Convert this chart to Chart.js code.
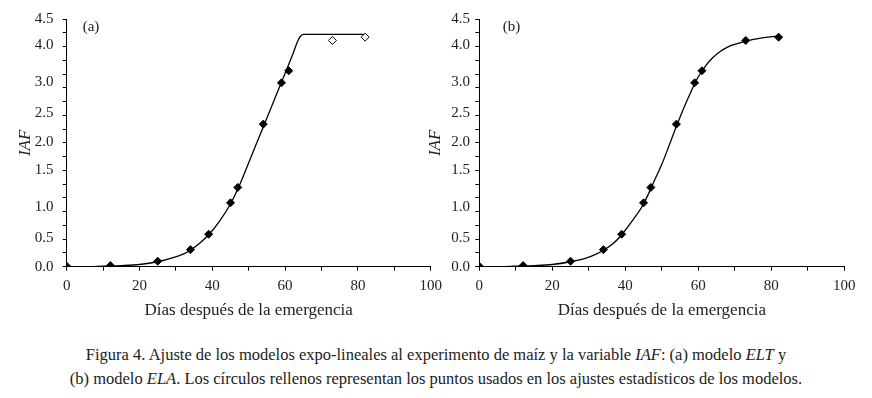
<!DOCTYPE html>
<html>
<head>
<meta charset="utf-8">
<script src="https://cdn.jsdelivr.net/npm/chart.js@4.4.0/dist/chart.umd.min.js"></script>
<style>
  body { margin: 0; background: #fff; }
  #wrap { position: relative; width: 872px; height: 398px; overflow: hidden; }
  canvas { position: absolute; top: 0; }
  #caption {
    position: absolute; left: 0; top: 343px; width: 872px;
    text-align: center; font-family: "Liberation Serif", serif;
    font-size: 16.5px; line-height: 24px; color: #222;
  }
</style>
</head>
<body>
<div id="wrap">
  <canvas id="chartA" width="455" height="330" style="left:0"></canvas>
  <canvas id="chartB" width="452" height="330" style="left:420px"></canvas>
  <div id="caption">
    Figura 4. Ajuste de los modelos expo-lineales al experimento de maíz y la variable <i>IAF</i>: (a) modelo <i>ELT</i> y<br>
    (b) modelo <i>ELA</i>. Los círculos rellenos representan los puntos usados en los ajustes estadísticos de los modelos.
  </div>
</div>
<script>
// Datos observados (días después de la emergencia, IAF)
const dias = [0, 12, 25, 34, 39, 45, 47, 54, 59, 61, 73, 82];
const iaf = [0.01, 0.02, 0.10, 0.31, 0.59, 1.16, 1.44, 2.59, 3.34, 3.56, 4.11, 4.17];
// 1 = usado en el ajuste (relleno), 0 = no usado (vacío)
const usadosA = [1, 1, 1, 1, 1, 1, 1, 1, 1, 1, 0, 0];
const usadosB = [1, 1, 1, 1, 1, 1, 1, 1, 1, 1, 1, 1];

// Curva ajustada, modelo ELT (a)
const curvaA_x = [0, 5, 10, 15, 20, 25, 29, 32, 34, 36.6, 39, 42, 45, 47, 50, 54, 59, 62, 63.6, 64.3, 65, 82];
const curvaA_y = [0, 0, 0.01, 0.02, 0.04, 0.09, 0.16, 0.23, 0.30, 0.43, 0.58, 0.83, 1.14, 1.41, 1.89, 2.54, 3.35, 3.84, 4.12, 4.19, 4.22, 4.22];

// Curva ajustada, modelo ELA (b)
const curvaB_x = [0, 5, 10, 15, 20, 25, 29, 32, 34, 36.7, 39, 42, 45, 47, 48, 50, 52, 54, 56, 58, 60, 62, 64, 66, 68, 70, 73, 76, 79, 82];
const curvaB_y = [0, 0, 0.01, 0.02, 0.04, 0.09, 0.15, 0.23, 0.30, 0.42, 0.58, 0.84, 1.14, 1.42, 1.57, 1.86, 2.20, 2.55, 2.88, 3.18, 3.45, 3.65, 3.80, 3.91, 3.99, 4.04, 4.10, 4.14, 4.17, 4.19];

// Etiquetas del eje Y, tal como aparecen (posiciones)
const etiquetasY = ['0.0', '0.5', '1.0', '1.5', '2.0', '2.5', '3.0', '4.0', '4.5'];
const posEtiquetasY = [0, 0.52, 1.09, 1.76, 2.26, 2.79, 3.35, 4.02, 4.5];

const FONT = '"Liberation Serif", "Times New Roman", serif';
const INK = '#222';

// Texto (a) / (b) dentro del área del gráfico
const panelLabel = {
  id: 'panelLabel',
  afterDraw(chart, args, opts) {
    const ctx = chart.ctx;
    ctx.save();
    ctx.font = '15px ' + FONT;
    ctx.fillStyle = INK;
    ctx.textBaseline = 'middle';
    ctx.fillText(opts.text, chart.chartArea.left + opts.dx, 27);
    ctx.restore();
  }
};

function makeChart(id, cfg) {
  const puntos = dias.map((d, i) => ({ x: d, y: iaf[i] }));
  const curva = cfg.cx.map((d, i) => ({ x: d, y: cfg.cy[i] }));

  return new Chart(document.getElementById(id), {
    type: 'scatter',
    data: {
      datasets: [
        {
          data: puntos,
          pointStyle: 'rectRot',
          pointRadius: 4,
          pointBorderWidth: 1,
          pointBorderColor: '#000',
          pointBackgroundColor: cfg.usados.map(u => u ? '#000' : '#fff'),
          showLine: false
        },
        {
          data: curva,
          showLine: true,
          borderColor: '#000',
          borderWidth: 1.3,
          pointRadius: 0,
          cubicInterpolationMode: 'monotone',
          fill: false
        }
      ]
    },
    options: {
      responsive: false,
      animation: false,
      layout: { padding: { left: 0, top: 19, right: cfg.padRight, bottom: 0 } },
      plugins: {
        legend: { display: false },
        tooltip: { enabled: false },
        panelLabel: { text: cfg.label, dx: cfg.labelDx }
      },
      scales: {
        x: {
          type: 'linear',
          min: 0,
          max: 100,
          afterFit: s => { s.height = 63.3; },
          ticks: {
            stepSize: 10,
            autoSkip: false,
            padding: 6,
            maxRotation: 0,
            color: INK,
            font: { family: FONT, size: 15 },
            callback: v => (v % 20 === 0 ? String(v) : '')
          },
          grid: { drawOnChartArea: false, tickLength: 4, color: '#000' },
          border: { color: '#000', width: 1 },
          title: {
            display: true,
            text: 'Días después de la emergencia',
            color: INK,
            font: { family: FONT, size: 17 },
            padding: { top: 0, bottom: 9 }
          }
        },
        y: {
          type: 'linear',
          position: 'left',
          min: 0,
          max: 4.5,
          weight: 0,
          afterFit: s => { s.width = cfg.tickAxisW; },
          ticks: { display: false, stepSize: 0.25 },
          grid: { drawOnChartArea: false, tickLength: 4, color: '#000' },
          border: { color: '#000', width: 1 }
        },
        yl: {
          type: 'linear',
          position: 'left',
          min: 0,
          max: 4.5,
          weight: 1,
          afterFit: s => { s.width = cfg.labelAxisW; },
          afterBuildTicks: s => { s.ticks = posEtiquetasY.map(v => ({ value: v })); },
          ticks: {
            autoSkip: false,
            padding: 2.5,
            color: INK,
            font: { family: FONT, size: 15 },
            callback: (v, i) => etiquetasY[i]
          },
          grid: { display: false, drawTicks: false },
          border: { display: false },
          title: {
            display: true,
            text: 'IAF',
            color: INK,
            font: { family: FONT, size: 17, style: 'italic' },
            padding: { top: cfg.titlePad, bottom: 0 }
          }
        }
      }
    },
    plugins: [panelLabel]
  });
}

makeChart('chartA', {
  cx: curvaA_x, cy: curvaA_y, usados: usadosA,
  label: '(a)', labelDx: 16,
  padRight: 24.3, labelAxisW: 56, tickAxisW: 10.7, titlePad: 15
});

makeChart('chartB', {
  cx: curvaB_x, cy: curvaB_y, usados: usadosB,
  label: '(b)', labelDx: 23.4,
  padRight: 27.7, labelAxisW: 52.5, tickAxisW: 6.8, titlePad: 5
});
</script>
</body>
</html>
